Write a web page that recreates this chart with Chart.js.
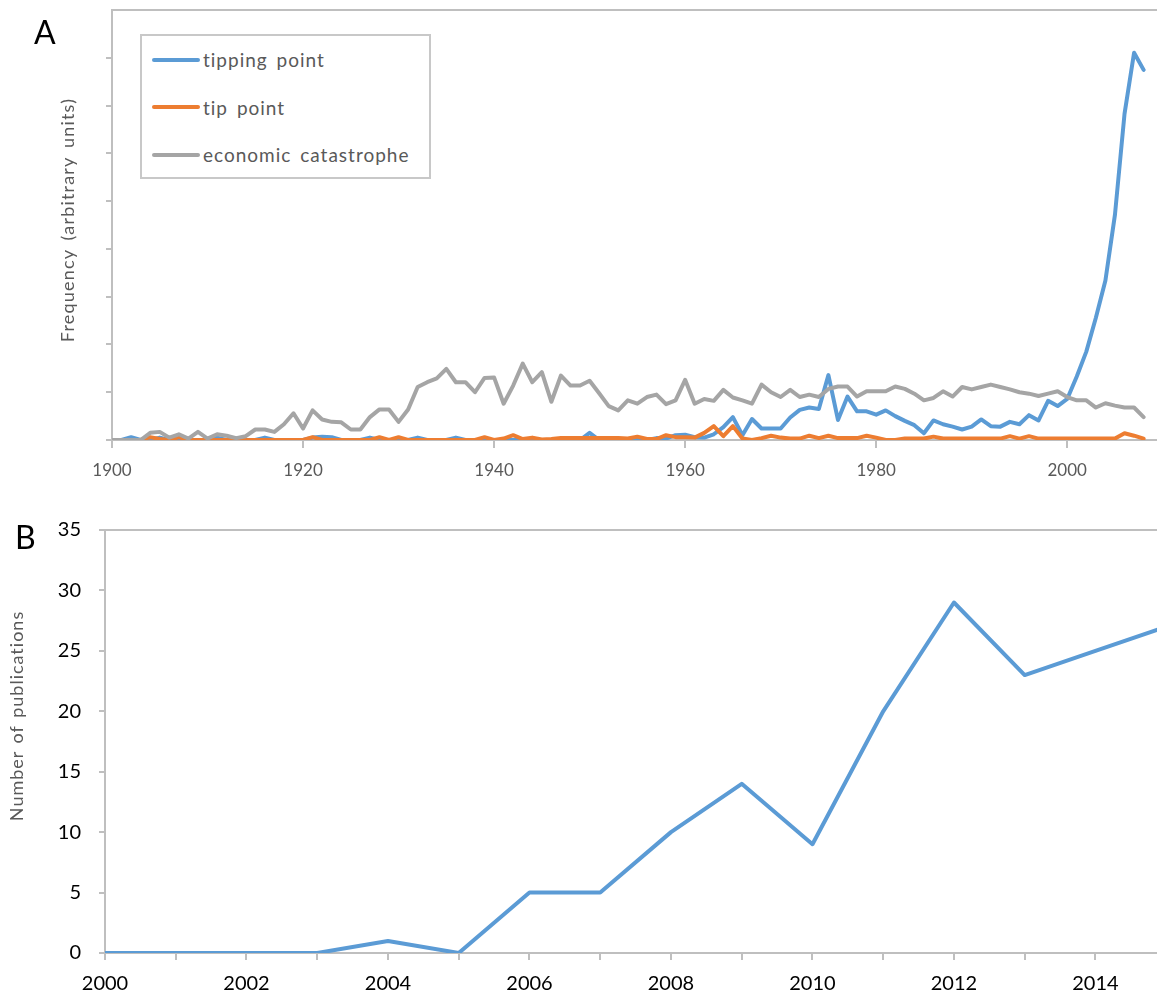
<!DOCTYPE html>
<html>
<head>
<meta charset="utf-8">
<script src="https://cdn.jsdelivr.net/npm/chart.js@4.4.1/dist/chart.umd.min.js"></script>
<style>
  body { margin: 0; background: #fff; font-family: Lato, sans-serif; }
  #wrap { position: relative; width: 1157px; height: 995px; overflow: hidden; }
  canvas { position: absolute; left: 0; }
  #chartA { top: 0; }
  #chartB { top: 500px; }
  .panel-label { position: absolute; font-size: 32px; line-height: 1; color: #000; }
  .axis-title {
    position: absolute; white-space: nowrap; color: #595959; font-size: 18px; line-height: 1.2;
    transform: translate(-50%, -50%) rotate(-90deg);
  }
  #legend {
    position: absolute; left: 140px; top: 34px; width: 291px; height: 145px;
    box-sizing: border-box; border: 2px solid #c8c8c8; background: #fff;
    padding-left: 10px;
  }
  #legend .item { height: 47.5px; display: flex; align-items: center; }
  #legend .swatch { width: 48px; height: 4px; border-radius: 2px; margin-right: 3px; }
  #legend .txt { font-size: 19px; color: #595959; letter-spacing: 1px; word-spacing: 3px; }
</style>
</head>
<body>
<div id="wrap">
  <canvas id="chartA" width="1157" height="500"></canvas>
  <canvas id="chartB" width="1157" height="495"></canvas>
  <div class="panel-label" style="left:34px; top:16px;">A</div>
  <div class="panel-label" style="left:15px; top:521px;">B</div>
  <div class="axis-title" style="left:68px; top:220px; letter-spacing:1.2px; word-spacing:3px;">Frequency (arbitrary units)</div>
  <div class="axis-title" style="left:17px; top:716px; letter-spacing:1px; word-spacing:2px;">Number of publications</div>
  <div id="legend"></div>
</div>
<script>
// Panel A: yearly frequencies 1900-2008 (arbitrary units)
const yearsA = [];
for (let y = 1900; y <= 2008; y++) yearsA.push(y);

const tippingPoint = [
  0, 0, 0.06, 0, 0, 0.05, 0, 0, 0, 0,                        // 1900s
  0, 0.05, 0, 0, 0, 0, 0.05, 0, 0, 0,                        // 1910s
  0, 0.05, 0.07, 0.06, 0, 0, 0, 0.05, 0, 0,                  // 1920s
  0, 0, 0.05, 0, 0, 0, 0.05, 0, 0, 0,                        // 1930s
  0, 0, 0, 0, 0, 0, 0, 0, 0, 0,                              // 1940s
  0.15, 0, 0, 0, 0, 0, 0, 0.04, 0.03, 0.1,                   // 1950s
  0.11, 0.06, 0.05, 0.12, 0.27, 0.48, 0.1, 0.44, 0.24, 0.24, // 1960s
  0.24, 0.47, 0.63, 0.68, 0.65, 1.36, 0.42, 0.91, 0.6, 0.6,  // 1970s
  0.53, 0.62, 0.5, 0.4, 0.31, 0.14, 0.41, 0.33, 0.28, 0.22,  // 1980s
  0.28, 0.43, 0.29, 0.28, 0.38, 0.33, 0.52, 0.41, 0.82, 0.71, // 1990s
  0.86, 1.33, 1.85, 2.56, 3.34, 4.72, 6.83, 8.11, 7.75       // 2000-2008
];

const tipPoint = [
  null, null, null, 0, 0.06, 0.02, 0, 0.06, 0, 0,
  0, 0, 0, 0, 0, 0, 0, 0, 0, 0,
  0, 0.06, 0, 0, 0, 0, 0, 0, 0.06, 0,
  0.06, 0, 0, 0, 0, 0, 0, 0, 0, 0.06,
  0, 0.03, 0.1, 0.02, 0.05, 0.01, 0.02, 0.04, 0.04, 0.04,
  0.04, 0.04, 0.04, 0.04, 0.03, 0.07, 0.02, 0.02, 0.1, 0.06,
  0.06, 0.05, 0.15, 0.29, 0.08, 0.29, 0.03, 0, 0.04, 0.09,
  0.05, 0.03, 0.03, 0.09, 0.04, 0.09, 0.04, 0.04, 0.04, 0.09,
  0.05, 0, 0, 0.03, 0.03, 0.03, 0.07, 0.03, 0.03, 0.03,
  0.03, 0.03, 0.03, 0.03, 0.08, 0.03, 0.08, 0.03, 0.03, 0.03,
  0.03, 0.03, 0.03, 0.03, 0.03, 0.03, 0.14, 0.09, 0.03
];

const economicCatastrophe = [
  0, 0, 0, 0, 0.15, 0.17, 0.05, 0.12, 0.03, 0.17,
  0.03, 0.12, 0.09, 0.04, 0.08, 0.22, 0.22, 0.17, 0.33, 0.56,
  0.24, 0.62, 0.43, 0.38, 0.37, 0.22, 0.22, 0.48, 0.64, 0.64,
  0.38, 0.64, 1.11, 1.21, 1.29, 1.49, 1.21, 1.21, 1.0, 1.3,
  1.31, 0.76, 1.14, 1.6, 1.21, 1.42, 0.8, 1.35, 1.14, 1.14,
  1.24, 0.98, 0.71, 0.62, 0.83, 0.76, 0.9, 0.95, 0.75, 0.83,
  1.26, 0.76, 0.86, 0.82, 1.05, 0.89, 0.83, 0.76, 1.16, 1.0,
  0.9, 1.05, 0.9, 0.95, 0.9, 1.07, 1.12, 1.12, 0.91, 1.02,
  1.02, 1.02, 1.12, 1.07, 0.97, 0.83, 0.88, 1.02, 0.91, 1.11,
  1.06, 1.11, 1.16, 1.11, 1.06, 1.0, 0.97, 0.92, 0.97, 1.02,
  0.9, 0.83, 0.83, 0.68, 0.77, 0.72, 0.68, 0.68, 0.48
];

// Panel B: publications per year
const yearsB = [2000, 2001, 2002, 2003, 2004, 2005, 2006, 2007, 2008, 2009, 2010, 2011, 2012, 2013, 2014, 2015];
const publications = [0, 0, 0, 0, 1, 0, 5, 5, 10, 14, 9, 20, 29, 23, 25, 27];

const axisGrey = '#bfbfbf';
const textGrey = '#595959';
const clear = 'rgba(0,0,0,0)';

Chart.defaults.font.family = 'Lato, sans-serif';

function toPoints(xs, ys) {
  return xs.map((x, i) => ({ x: x, y: ys[i] }));
}

const lineStyle = {
  pointRadius: 0,
  borderWidth: 4,
  tension: 0,
  borderJoinStyle: 'round',
  borderCapStyle: 'round',
  fill: false
};

const chartA = new Chart(document.getElementById('chartA'), {
  type: 'line',
  data: {
    datasets: [
      Object.assign({ label: 'tipping point', data: toPoints(yearsA, tippingPoint), borderColor: '#5b9bd5', order: 3 }, lineStyle),
      Object.assign({ label: 'tip point', data: toPoints(yearsA, tipPoint), borderColor: '#ed7d31', order: 2 }, lineStyle),
      Object.assign({ label: 'economic catastrophe', data: toPoints(yearsA, economicCatastrophe), borderColor: '#a5a5a5', order: 1 }, lineStyle)
    ]
  },
  options: {
    responsive: false,
    animation: false,
    layout: { padding: { top: 6, right: 0, bottom: 0, left: 0 } },
    plugins: { legend: { display: false }, tooltip: { enabled: false } },
    scales: {
      x: {
        type: 'linear', min: 1900, max: 2009.4,
        afterFit: s => { s.height = 60; },
        border: { color: axisGrey, width: 2 },
        grid: { drawOnChartArea: false, tickColor: axisGrey, tickLength: 8, lineWidth: 2 },
        ticks: { stepSize: 20, includeBounds: false, padding: 12, color: textGrey, font: { size: 17 }, maxRotation: 0, callback: v => String(v) }
      },
      y: {
        min: 0, max: 9,
        afterFit: s => { s.width = 112; },
        border: { color: axisGrey, width: 2 },
        grid: {
          color: c => (c.tick && c.tick.value === 9 ? axisGrey : clear),
          tickColor: c => (c.tick && c.tick.value === 9 ? clear : axisGrey),
          tickLength: 6, lineWidth: 2
        },
        ticks: { stepSize: 1, callback: () => '' }
      }
    }
  }
});

new Chart(document.getElementById('chartB'), {
  type: 'line',
  data: {
    datasets: [
      Object.assign({ label: 'Number of publications', data: toPoints(yearsB, publications), borderColor: '#5b9bd5' }, lineStyle)
    ]
  },
  options: {
    responsive: false,
    animation: false,
    layout: { padding: { top: 20, right: 0, bottom: 0, left: 0 } },
    plugins: { legend: { display: false }, tooltip: { enabled: false } },
    scales: {
      x: {
        type: 'linear', min: 2000, max: 2014.87,
        afterFit: s => { s.height = 42; },
        border: { color: axisGrey, width: 2 },
        grid: { drawOnChartArea: false, tickColor: axisGrey, tickLength: 7, lineWidth: 2 },
        ticks: {
          stepSize: 1, includeBounds: false, autoSkip: false, padding: 12, maxRotation: 0,
          color: '#000', font: { size: 20 },
          callback: v => (v % 2 === 0 ? String(v) : '')
        }
      },
      y: {
        min: 0, max: 35,
        afterFit: s => { s.width = 105; },
        border: { color: axisGrey, width: 2 },
        grid: {
          color: c => (c.tick && c.tick.value === 35 ? axisGrey : clear),
          tickColor: axisGrey, tickLength: 6, lineWidth: 2
        },
        ticks: { stepSize: 5, padding: 18, color: '#000', font: { size: 20 } }
      }
    }
  }
});

// legend box inside panel A, built from the chart's datasets
const legendEl = document.getElementById('legend');
legendEl.innerHTML = chartA.data.datasets.map(ds =>
  '<div class="item"><span class="swatch" style="background:' + ds.borderColor + '"></span>' +
  '<span class="txt">' + ds.label + '</span></div>'
).join('');
</script>
</body>
</html>
